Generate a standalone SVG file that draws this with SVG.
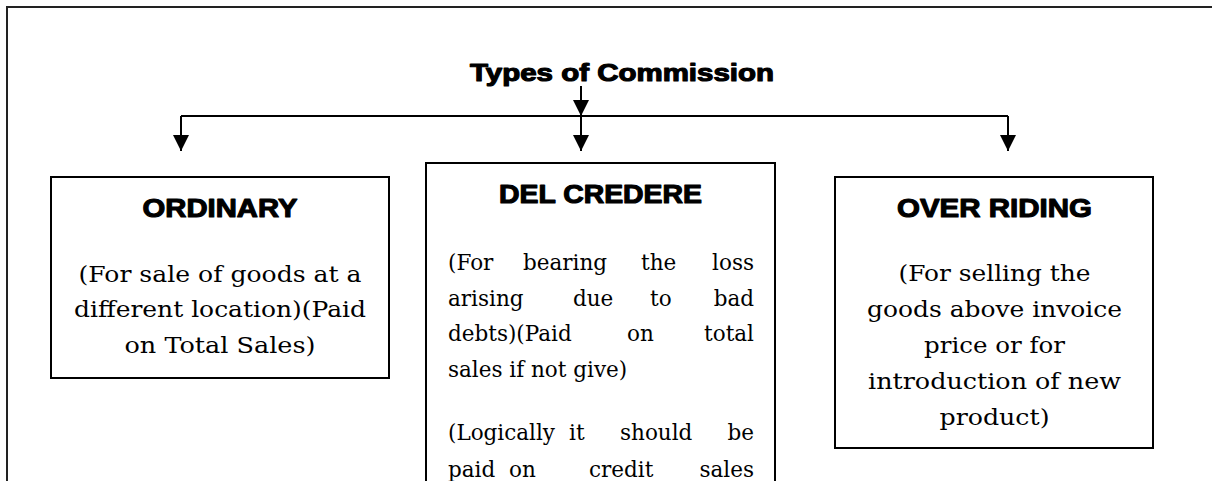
<svg xmlns="http://www.w3.org/2000/svg" width="1212" height="481" viewBox="0 0 1212 481">
  <defs>
    <marker id="arr" markerUnits="userSpaceOnUse" markerWidth="16" markerHeight="16" refX="16" refY="8" orient="auto">
      <path d="M0,0 L16,8 L0,16 z" fill="#000"/>
    </marker>
    <style>
      .box { fill: #fff; stroke: #000; stroke-width: 2; }
      .conn { stroke: #000; stroke-width: 2; fill: none; }
      .head { font-family: "Liberation Sans", Arial, sans-serif; font-weight: bold; fill: #000; stroke: #000; stroke-width: 1.1; stroke-linejoin: round; text-anchor: middle; }
      .body { font-family: "DejaVu Serif", "Liberation Serif", serif; font-size: 21.5px; fill: #000; }
      .c { text-anchor: middle; }
      .e { text-anchor: end; }
    </style>
  </defs>
  <rect width="1212" height="481" fill="#fff"/>
  <rect x="7" y="7" width="1220" height="490" fill="none" stroke="#222" stroke-width="2"/>

  <g id="title">
    <text class="head" x="622" y="81" font-size="23.5" textLength="304" lengthAdjust="spacingAndGlyphs">Types of Commission</text>
  </g>

  <g id="connectors">
    <line class="conn" x1="581" y1="86" x2="581" y2="116" marker-end="url(#arr)"/>
    <path class="conn" d="M181,116 H1008"/>
    <line class="conn" x1="181" y1="116" x2="181" y2="151" marker-end="url(#arr)"/>
    <line class="conn" x1="581" y1="116" x2="581" y2="151" marker-end="url(#arr)"/>
    <line class="conn" x1="1008" y1="116" x2="1008" y2="151" marker-end="url(#arr)"/>
  </g>

  <g id="ordinary">
    <rect class="box" x="51" y="177" width="338" height="201"/>
    <text class="head" x="220" y="217" font-size="26" textLength="155" lengthAdjust="spacingAndGlyphs">ORDINARY</text>
    <text class="body c" x="220" y="282" textLength="283" lengthAdjust="spacingAndGlyphs">(For sale of goods at a</text>
    <text class="body c" x="220" y="317" textLength="292" lengthAdjust="spacingAndGlyphs">different location)(Paid</text>
    <text class="body c" x="220" y="353" textLength="191" lengthAdjust="spacingAndGlyphs">on Total Sales)</text>
  </g>

  <g id="del-credere">
    <rect class="box" x="426" y="163" width="349" height="330"/>
    <text class="head" x="600.5" y="203" font-size="25" textLength="203" lengthAdjust="spacingAndGlyphs">DEL CREDERE</text>
    <text class="body" y="270"><tspan x="448">(For</tspan><tspan x="523">bearing</tspan><tspan x="641">the</tspan><tspan class="e" x="754">loss</tspan></text>
    <text class="body" y="305.5"><tspan x="448">arising</tspan><tspan x="573">due</tspan><tspan x="650">to</tspan><tspan class="e" x="754">bad</tspan></text>
    <text class="body" y="341"><tspan x="448">debts)(Paid</tspan><tspan x="627">on</tspan><tspan class="e" x="754">total</tspan></text>
    <text class="body" x="448" y="376.5">sales if not give)</text>
    <text class="body" y="440"><tspan x="448">(Logically</tspan><tspan x="569">it</tspan><tspan x="620">should</tspan><tspan class="e" x="754">be</tspan></text>
    <text class="body" y="477"><tspan x="448">paid</tspan><tspan x="509">on</tspan><tspan x="589">credit</tspan><tspan class="e" x="754">sales</tspan></text>
  </g>

  <g id="over-riding">
    <rect class="box" x="835" y="177" width="318" height="271"/>
    <text class="head" x="994.5" y="217" font-size="26" textLength="195" lengthAdjust="spacingAndGlyphs">OVER RIDING</text>
    <text class="body c" x="994.5" y="281" textLength="192" lengthAdjust="spacingAndGlyphs">(For selling the</text>
    <text class="body c" x="994.5" y="317" textLength="255" lengthAdjust="spacingAndGlyphs">goods above invoice</text>
    <text class="body c" x="994.5" y="353" textLength="141" lengthAdjust="spacingAndGlyphs">price or for</text>
    <text class="body c" x="994.5" y="389" textLength="253" lengthAdjust="spacingAndGlyphs">introduction of new</text>
    <text class="body c" x="994.5" y="425" textLength="110" lengthAdjust="spacingAndGlyphs">product)</text>
  </g>
</svg>
